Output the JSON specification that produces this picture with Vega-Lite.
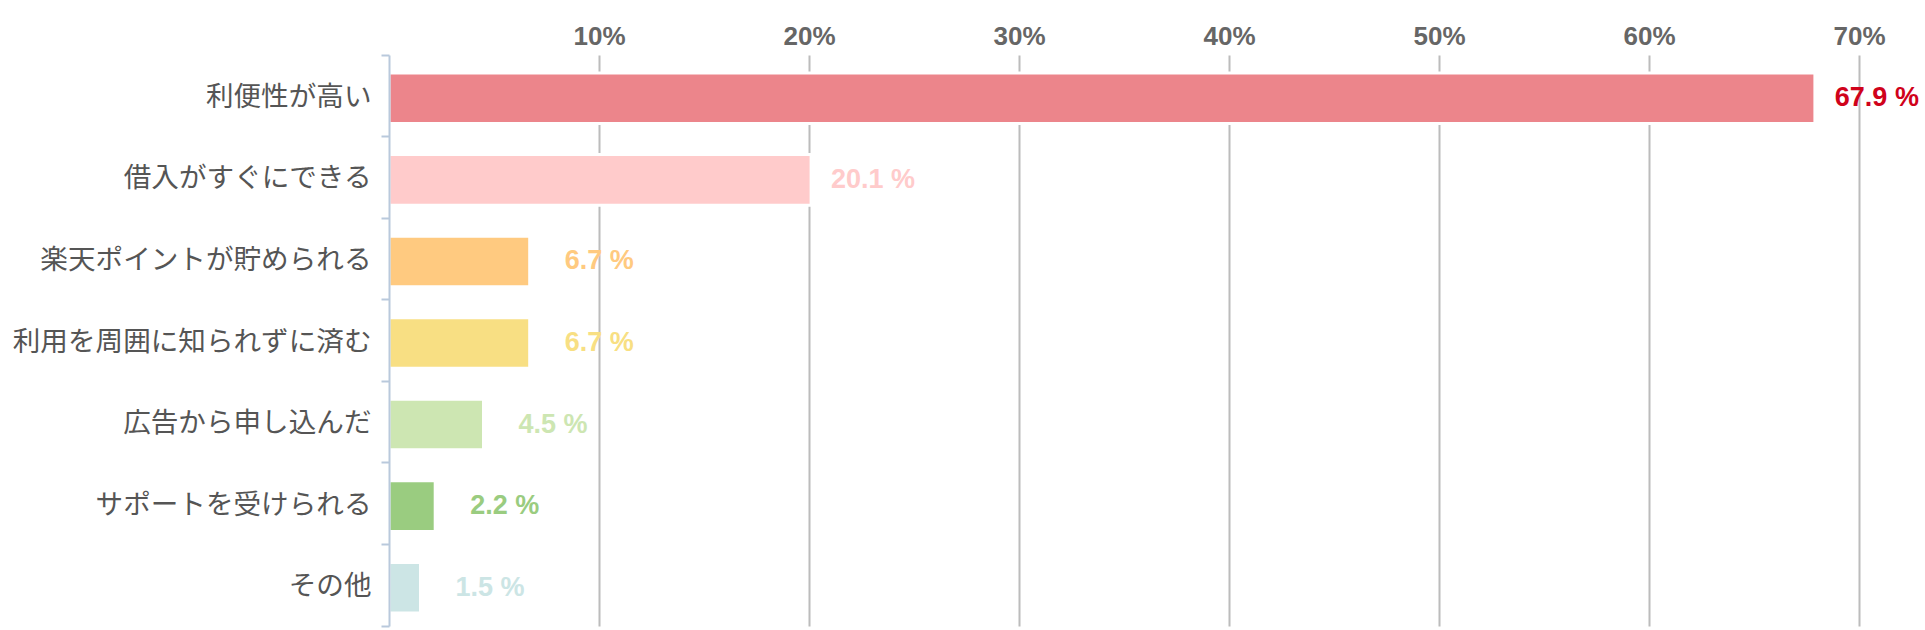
{
  "$schema": "https://vega.github.io/schema/vega-lite/v6.json",
  "width": 1470,
  "height": 571,
  "autosize": {"type": "none"},
  "padding": {"left": 389, "top": 55, "right": 66, "bottom": 4},
  "background": "white",
  "config": {"view": {"stroke": null}},
  "data": {
    "values": [
      {"item": "利便性が高い", "pct": 67.9},
      {"item": "借入がすぐにできる", "pct": 20.1},
      {"item": "楽天ポイントが貯められる", "pct": 6.7},
      {"item": "利用を周囲に知られずに済む", "pct": 6.7},
      {"item": "広告から申し込んだ", "pct": 4.5},
      {"item": "サポートを受けられる", "pct": 2.2},
      {"item": "その他", "pct": 1.5}
    ]
  },
  "encoding": {
    "y": {
      "field": "item",
      "type": "nominal",
      "sort": null,
      "scale": {"paddingInner": 0, "paddingOuter": 0},
      "axis": {
        "title": null,
        "orient": "left",
        "grid": false,
        "domainColor": "#b9c9dc",
        "domainWidth": 2,
        "tickColor": "#b9c9dc",
        "tickWidth": 2,
        "tickSize": 8,
        "bandPosition": 1,
        "tickExtra": true,
        "labelOffset": 2,
        "labelLimit": 0,
        "labelFont": "Noto Sans CJK JP",
        "labelFontSize": 27.6,
        "labelColor": "#555555",
        "labelPadding": 10,
        "zindex": 1
      }
    },
    "x": {
      "field": "pct",
      "type": "quantitative",
      "scale": {"domain": [0, 70], "nice": false},
      "axis": {
        "title": null,
        "orient": "top",
        "domain": false,
        "ticks": false,
        "values": [10, 20, 30, 40, 50, 60, 70],
        "labelExpr": "datum.value + '%'",
        "labelFont": "Liberation Sans",
        "labelFontWeight": "bold",
        "labelFontSize": 26,
        "labelColor": "#666666",
        "labelPadding": 6,
        "labelFlush": false,
        "labelBound": false,
        "grid": true,
        "gridColor": "#bcbcbc",
        "gridWidth": 2,
        "zindex": 0
      }
    }
  },
  "layer": [
    {
      "mark": {"type": "bar", "height": {"band": 0.62}, "yOffset": 2.5, "stroke": "white", "strokeWidth": 3},
      "encoding": {
        "color": {
          "field": "item",
          "type": "nominal",
          "sort": null,
          "legend": null,
          "scale": {
            "domain": ["利便性が高い", "借入がすぐにできる", "楽天ポイントが貯められる", "利用を周囲に知られずに済む", "広告から申し込んだ", "サポートを受けられる", "その他"],
            "range": ["#ec858b", "#ffcbcb", "#ffca80", "#f8df83", "#cde6b2", "#9acc80", "#cce5e5"]
          }
        }
      }
    },
    {
      "mark": {
        "type": "text",
        "align": "right",
        "baseline": "middle",
        "dx": 104,
        "yOffset": 2.5,
        "font": "Liberation Sans",
        "fontWeight": "bold",
        "fontSize": 27,
        "text": {"expr": "format(datum.pct, '.1f') + ' %'"}
      },
      "encoding": {
        "color": {
          "field": "item",
          "type": "nominal",
          "sort": null,
          "legend": null,
          "scale": {
            "domain": ["利便性が高い", "借入がすぐにできる", "楽天ポイントが貯められる", "利用を周囲に知られずに済む", "広告から申し込んだ", "サポートを受けられる", "その他"],
            "range": ["#d0021b", "#ffcbcb", "#ffca80", "#f8df83", "#cde6b2", "#9acc80", "#cce5e5"]
          }
        }
      }
    }
  ],
  "resolve": {"scale": {"color": "independent"}}
}
